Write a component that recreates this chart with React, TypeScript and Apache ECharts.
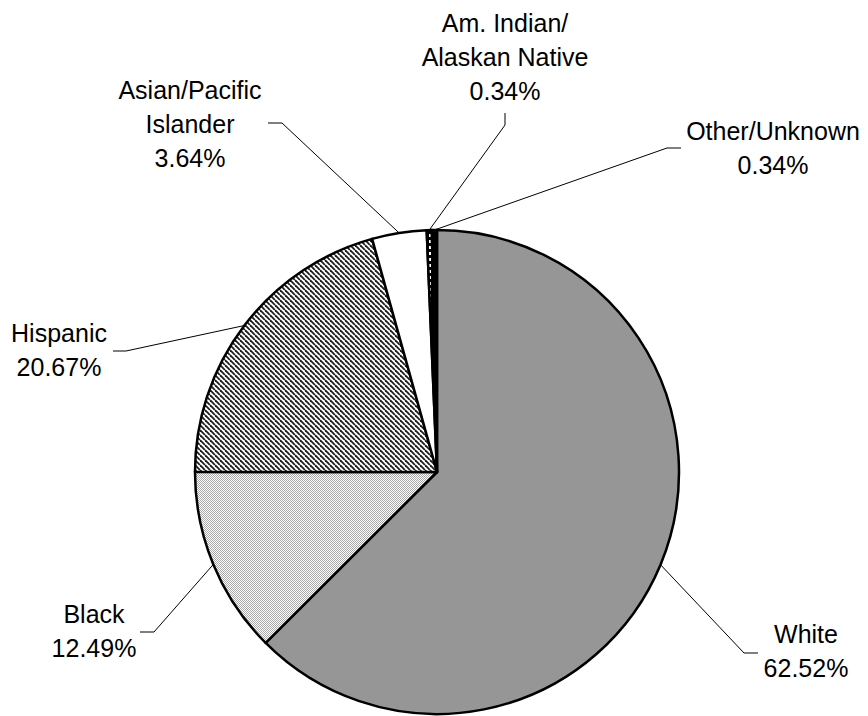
import React, { useEffect, useRef } from 'react';
import * as echarts from 'echarts';

// ---- data ----
const categories = [
  'White',
  'Black',
  'Hispanic',
  'Asian/Pacific\nIslander',
  'Am. Indian/\nAlaskan Native',
  'Other/Unknown',
];
const values = [62.52, 12.49, 20.67, 3.64, 0.34, 0.34];

// ---- label placement (layout only) ----
const labelCenters = [
  [806, 651],
  [94, 631],
  [59, 350],
  [190, 124],
  [505, 57],
  [773, 148],
];
const leaderBends = [
  [[744, 653], [758, 653]],
  [[154, 632], [140, 632]],
  [[126, 351], [113, 351]],
  [[282, 123], [268, 123]],
  [[505, 125], [505, 113]],
  [[667, 148], [681, 148]],
];

function makePattern(
  w: number,
  h: number,
  bg: string,
  draw: (ctx: CanvasRenderingContext2D) => void
) {
  const c = document.createElement('canvas');
  c.width = w;
  c.height = h;
  const ctx = c.getContext('2d')!;
  ctx.fillStyle = bg;
  ctx.fillRect(0, 0, w, h);
  draw(ctx);
  return { image: c.toDataURL(), repeat: 'repeat', imageWidth: w, imageHeight: h } as any;
}

export default function App() {
  const ref = useRef<HTMLDivElement>(null);
  useEffect(() => {
    if (!ref.current) return;
    const chart = echarts.init(ref.current, undefined, { renderer: 'svg' });

    const stipple = makePattern(2, 2, '#ffffff', (ctx) => {
      ctx.fillStyle = '#a8a8a8';
      ctx.fillRect(0, 0, 1, 1);
      ctx.fillRect(1, 1, 1, 1);
    });
    const hatch = makePattern(5, 5, '#ffffff', (ctx) => {
      ctx.strokeStyle = '#1e1e1e';
      ctx.lineWidth = 1.8;
      for (const x0 of [-5, 0, 5]) {
        ctx.beginPath();
        ctx.moveTo(x0, 0);
        ctx.lineTo(x0 + 5, 5);
        ctx.stroke();
      }
    });
    const dashes = makePattern(4, 6, '#000000', (ctx) => {
      ctx.fillStyle = '#ffffff';
      ctx.fillRect(1, 0, 2, 3);
    });
    const fills: any[] = ['#969696', stipple, hatch, '#ffffff', dashes, '#000000'];

    chart.setOption({
      animation: false,
      backgroundColor: '#ffffff',
      series: [
        {
          type: 'pie',
          center: [437, 472],
          radius: 242,
          startAngle: 90,
          clockwise: true,
          avoidLabelOverlap: false,
          data: categories.map((name, i) => ({
            name,
            value: values[i],
            itemStyle: { color: fills[i] },
          })),
          itemStyle: { borderColor: '#000000', borderWidth: 2.5 },
          label: {
            show: true,
            position: 'outside',
            color: '#000000',
            fontFamily: 'Liberation Sans, Arial, sans-serif',
            fontSize: 25,
            lineHeight: 34,
            align: 'center',
            formatter: (p: any) => `${p.name}\n${Number(p.value).toFixed(2)}%`,
          },
          labelLine: {
            show: true,
            smooth: false,
            lineStyle: { color: '#000000', width: 1 },
          },
          labelLayout: (params: any) => {
            const i = params.dataIndex;
            const start = params.labelLinePoints ? params.labelLinePoints[0] : null;
            const res: any = {
              x: labelCenters[i][0],
              y: labelCenters[i][1],
              align: 'center',
              verticalAlign: 'middle',
            };
            if (start) {
              res.labelLinePoints = [start, leaderBends[i][0], leaderBends[i][1]];
            }
            return res;
          },
          emphasis: { disabled: true },
        },
      ],
    });
    return () => chart.dispose();
  }, []);
  return (
    <div
      ref={ref}
      style={{ position: 'absolute', left: 0, top: 0, width: 868, height: 716 }}
    />
  );
}
